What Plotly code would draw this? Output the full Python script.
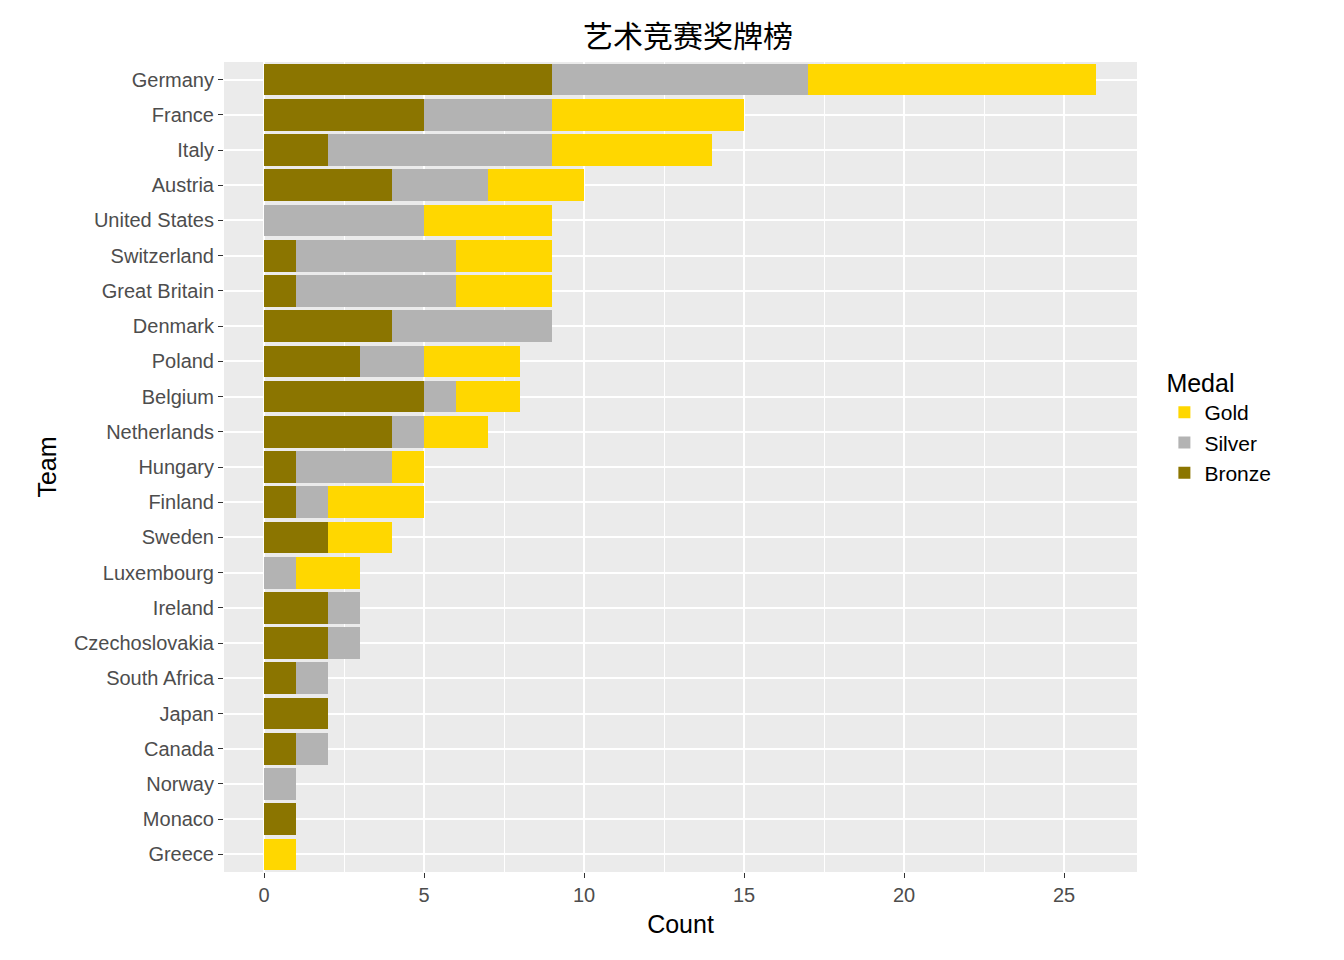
import plotly.graph_objects as go

teams = ["Germany","France","Italy","Austria","United States","Switzerland","Great Britain",
         "Denmark","Poland","Belgium","Netherlands","Hungary","Finland","Sweden","Luxembourg",
         "Ireland","Czechoslovakia","South Africa","Japan","Canada","Norway","Monaco","Greece"]
bronze = [9,5,2,4,0,1,1,4,3,5,4,1,1,2,0,2,2,1,2,1,0,1,0]
silver = [8,4,7,3,5,5,5,5,2,1,1,3,1,0,1,1,1,1,0,1,1,0,0]
gold   = [9,6,5,3,4,3,3,0,3,2,2,1,3,2,2,0,0,0,0,0,0,0,1]

fig = go.Figure()
for name, vals, col in [("Bronze", bronze, "#8B7500"), ("Silver", silver, "#B3B3B3"), ("Gold", gold, "#FFD700")]:
    fig.add_trace(go.Bar(y=teams, x=vals, name=name, orientation="h", marker=dict(color=col, line=dict(width=0)),
                         width=0.9))

fig.update_layout(
    barmode="stack", width=1344, height=960,
    paper_bgcolor="white", plot_bgcolor="#EBEBEB",
    margin=dict(l=216, r=215, t=54, b=96),
    font=dict(family="Liberation Sans, Arial", size=20, color="#4D4D4D"),
    title=dict(text="艺术竞赛奖牌榜", x=0.506, xanchor="center", y=0.97, yanchor="middle",
               font=dict(family="Noto Sans CJK SC", size=30, color="black")),
    legend=dict(title=dict(text="Medal", font=dict(size=25, color="black")), traceorder="reversed",
                x=1.03, xanchor="left", y=0.55, yanchor="middle", font=dict(size=21, color="black"),
                tracegroupgap=10),
    bargap=0.1,
)
fig.update_xaxes(range=[-1.25, 27.28], tickvals=[0,5,10,15,20,25], showgrid=True, gridcolor="white", gridwidth=2,
                 zeroline=False, ticks="outside", ticklen=5, tickcolor="#333333",
                 minor=dict(tickvals=[2.5,7.5,12.5,17.5,22.5], showgrid=True, gridcolor="white", gridwidth=1, ticks=""),
                 title=dict(text="Count", font=dict(size=25, color="black"), standoff=10))
fig.update_yaxes(autorange="reversed", showgrid=True, gridcolor="white", gridwidth=2,
                 ticks="outside", ticklen=5, tickcolor="#333333",
                 title=dict(text="Team", font=dict(size=25, color="black"), standoff=10))
fig.write_html("out.html")
